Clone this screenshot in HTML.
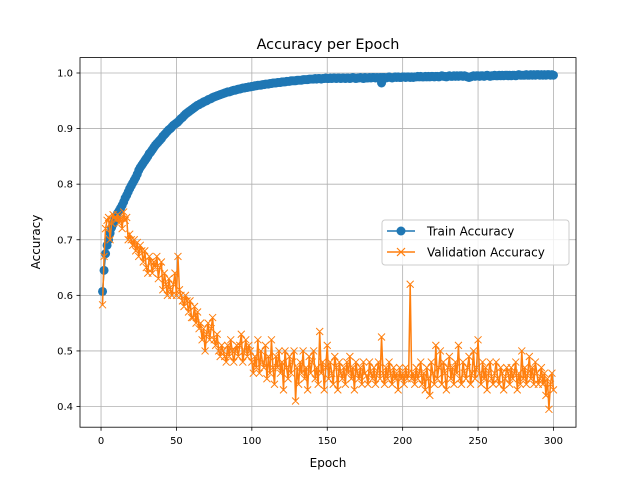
<!DOCTYPE html>
<html><head><meta charset="utf-8"><style>
body{margin:0;background:#fff;font-family:"Liberation Sans","DejaVu Sans",sans-serif;}
svg text{font-family:"DejaVu Sans","Liberation Sans",sans-serif;}
</style></head><body>
<svg id="chart" width="640" height="480" xmlns="http://www.w3.org/2000/svg">
<rect width="640" height="480" fill="#fff"/>
<g id="grid"></g><g id="series"></g><g id="axes"></g>
<text x="328" y="49" font-size="14.4" text-anchor="middle">Accuracy per Epoch</text>
<text x="328" y="467" font-size="12" text-anchor="middle">Epoch</text>
<text transform="translate(40,242) rotate(-90)" font-size="12" text-anchor="middle">Accuracy</text>
<g>
<rect x="382" y="220" width="187" height="45" rx="3" fill="#fff" fill-opacity="0.8" stroke="#ccc"/>
<g>
<line x1="387" y1="231" x2="415" y2="231" stroke="#1f77b4" stroke-width="1.5"/><circle cx="401" cy="231" r="4.5" fill="#1f77b4"/>
<text x="427" y="235.5" font-size="12">Train Accuracy</text></g>
<g>
<line x1="387" y1="252" x2="415" y2="252" stroke="#ff7f0e" stroke-width="1.5"/>
<path d="M397,248 l8,8 M397,256 l8,-8" stroke="#ff7f0e" stroke-width="1.2"/>
<text x="427" y="256.5" font-size="12">Validation Accuracy</text></g>
</g>
</svg>
<script>
const train=[.607,.645,.675,.690,.700,.712,.722,.728,.735,.740,
.748,.752,.757,.762,.768,.775,.780,.786,.792,.797,
.802,.807,.812,.818,.825,.830,.834,.838,.842,.846,
.850,.855,.858,.862,.866,.870,.873,.876,.879,.882,
.886,.889,.892,.895,.898,.900,.903,.906,.908,.910,
.912,.915,.918,.920,.923,.926,.928,.930,.932,.934,
.936,.938,.940,.942,.943,.945,.946,.948,.949,.950,
.952,.953,.954,.956,.957,.958,.959,.960,.961,.962,
.963,.964,.965,.966,.966,.967,.968,.969,.969,.970,
.971,.971,.972,.973,.973,.974,.974,.975,.975,.976,
.976,.977,.977,.978,.978,.978,.979,.979,.980,.980,
.980,.981,.981,.982,.982,.982,.983,.983,.983,.984,
.984,.984,.985,.985,.985,.986,.986,.986,.986,.987,
.987,.987,.987,.988,.988,.988,.988,.989,.989,.989,
.989,.990,.989,.990,.990,.989,.990,.990,.991,.990,
.990,.991,.990,.991,.991,.990,.991,.991,.990,.991,
.991,.990,.991,.991,.990,.991,.992,.991,.990,.991,
.991,.992,.991,.990,.992,.991,.991,.992,.991,.992,
.992,.991,.992,.991,.992,.982,.992,.992,.991,.992,
.993,.992,.991,.992,.993,.992,.993,.992,.992,.993,
.993,.992,.993,.993,.992,.993,.992,.993,.993,.994,
.993,.994,.993,.993,.994,.993,.994,.993,.994,.994,
.993,.994,.994,.993,.994,.995,.994,.994,.993,.994,
.995,.994,.994,.995,.994,.995,.994,.995,.995,.994,
.995,.994,.993,.992,.993,.994,.995,.994,.995,.995,
.994,.995,.995,.994,.995,.996,.995,.994,.995,.995,
.996,.995,.995,.996,.995,.996,.995,.996,.996,.995,
.996,.995,.996,.996,.995,.996,.997,.996,.996,.996,
.996,.997,.996,.996,.997,.996,.997,.996,.997,.997,
.996,.997,.996,.997,.996,.997,.997,.996,.997,.996];
const val=[.583,.670,.720,.735,.740,.700,.730,.745,.740,.735,
.745,.730,.740,.720,.750,.735,.740,.700,.710,.700,
.690,.700,.680,.695,.670,.690,.680,.660,.680,.650,
.640,.670,.660,.640,.660,.650,.670,.630,.650,.660,
.610,.640,.620,.600,.630,.610,.600,.620,.640,.600,
.670,.610,.600,.590,.580,.600,.590,.570,.590,.560,
.560,.580,.550,.570,.540,.550,.520,.540,.500,.530,
.550,.520,.540,.560,.520,.510,.530,.500,.490,.510,
.500,.490,.480,.510,.490,.520,.500,.480,.500,.510,
.490,.510,.530,.480,.500,.520,.490,.510,.500,.480,
.460,.490,.470,.520,.460,.500,.480,.470,.510,.450,
.490,.460,.520,.470,.440,.490,.470,.500,.460,.480,
.430,.500,.470,.450,.490,.460,.480,.500,.410,.470,
.440,.480,.460,.500,.450,.470,.430,.490,.460,.480,
.500,.450,.470,.440,.535,.460,.480,.430,.470,.510,
.450,.480,.460,.440,.490,.470,.430,.480,.460,.450,
.470,.440,.480,.460,.490,.450,.470,.430,.480,.460,
.450,.470,.440,.480,.460,.455,.440,.480,.460,.450,
.470,.440,.460,.480,.450,.525,.460,.440,.470,.450,
.480,.460,.440,.470,.450,.460,.430,.470,.450,.460,
.440,.470,.450,.460,.620,.450,.460,.440,.470,.450,
.460,.480,.440,.460,.430,.470,.450,.420,.480,.460,
.440,.510,.450,.470,.500,.440,.480,.460,.430,.470,
.490,.450,.470,.440,.480,.460,.510,.450,.440,.480,
.460,.450,.470,.490,.440,.460,.500,.450,.470,.520,
.460,.440,.480,.450,.470,.430,.460,.480,.450,.440,
.460,.480,.450,.440,.470,.460,.430,.450,.470,.460,
.440,.470,.450,.460,.480,.430,.460,.440,.500,.450,
.470,.440,.460,.490,.450,.470,.440,.480,.460,.440,
.450,.470,.440,.460,.420,.450,.395,.440,.460,.430];
const xTicks=[0,50,100,150,200,250,300];
const yTicks=[0.4,0.5,0.6,0.7,0.8,0.9,1.0];
const L=80,R=576,T=57.6,B=427.2;
const xmin=-13.95,xmax=314.95,ymin=0.3628,ymax=1.0277;
const X=e=>L+(e-xmin)/(xmax-xmin)*(R-L);
const Y=v=>B-(v-ymin)/(ymax-ymin)*(B-T);
const NS="http://www.w3.org/2000/svg";
function mk(tag,attrs,parent){const el=document.createElementNS(NS,tag);for(const k in attrs)el.setAttribute(k,attrs[k]);parent.appendChild(el);return el;}
const grid=document.getElementById('grid'),ser=document.getElementById('series'),ax=document.getElementById('axes');
xTicks.forEach(t=>{const x=X(t);
const g=mk('line',{x1:x,x2:x,y1:T,y2:B,stroke:'#b0b0b0','stroke-width':0.8},grid);


mk('line',{x1:x,x2:x,y1:B,y2:B+3.5,stroke:'#000','stroke-width':0.8},ax);
const tx=mk('text',{x:x,y:B+17,'font-size':10,'text-anchor':'middle'},ax);tx.textContent=t;

});
yTicks.forEach(t=>{const y=Y(t);
const g=mk('line',{x1:L,x2:R,y1:y,y2:y,stroke:'#b0b0b0','stroke-width':0.8},grid);


mk('line',{x1:L-3.5,x2:L,y1:y,y2:y,stroke:'#000','stroke-width':0.8},ax);
const tx=mk('text',{x:L-7,y:y+3.5,'font-size':10,'text-anchor':'end'},ax);tx.textContent=t.toFixed(1);

});
const fr=mk('rect',{x:L,y:T,width:R-L,height:B-T,fill:'none',stroke:'#000','stroke-width':0.8},ax);


const tp=train.map((v,i)=>X(i+1).toFixed(2)+','+Y(v).toFixed(2)).join(' ');
const tl=mk('polyline',{points:tp,fill:'none',stroke:'#1f77b4','stroke-width':1.5},ser);


train.forEach((v,i)=>{const c=mk('circle',{cx:X(i+1),cy:Y(v),r:4.5,fill:'#1f77b4'},ser);

});
const vp=val.map((v,i)=>X(i+1).toFixed(2)+','+Y(v).toFixed(2)).join(' ');
const vl=mk('polyline',{points:vp,fill:'none',stroke:'#ff7f0e','stroke-width':1.5},ser);


let d='';val.forEach((v,i)=>{const x=X(i+1),y=Y(v);d+=`M${x-3.5},${y-3.5}l7,7M${x-3.5},${y+3.5}l7,-7`;});
const vm=mk('path',{d:d,stroke:'#ff7f0e','stroke-width':1,fill:'none'},ser);


</script>
</body></html>
